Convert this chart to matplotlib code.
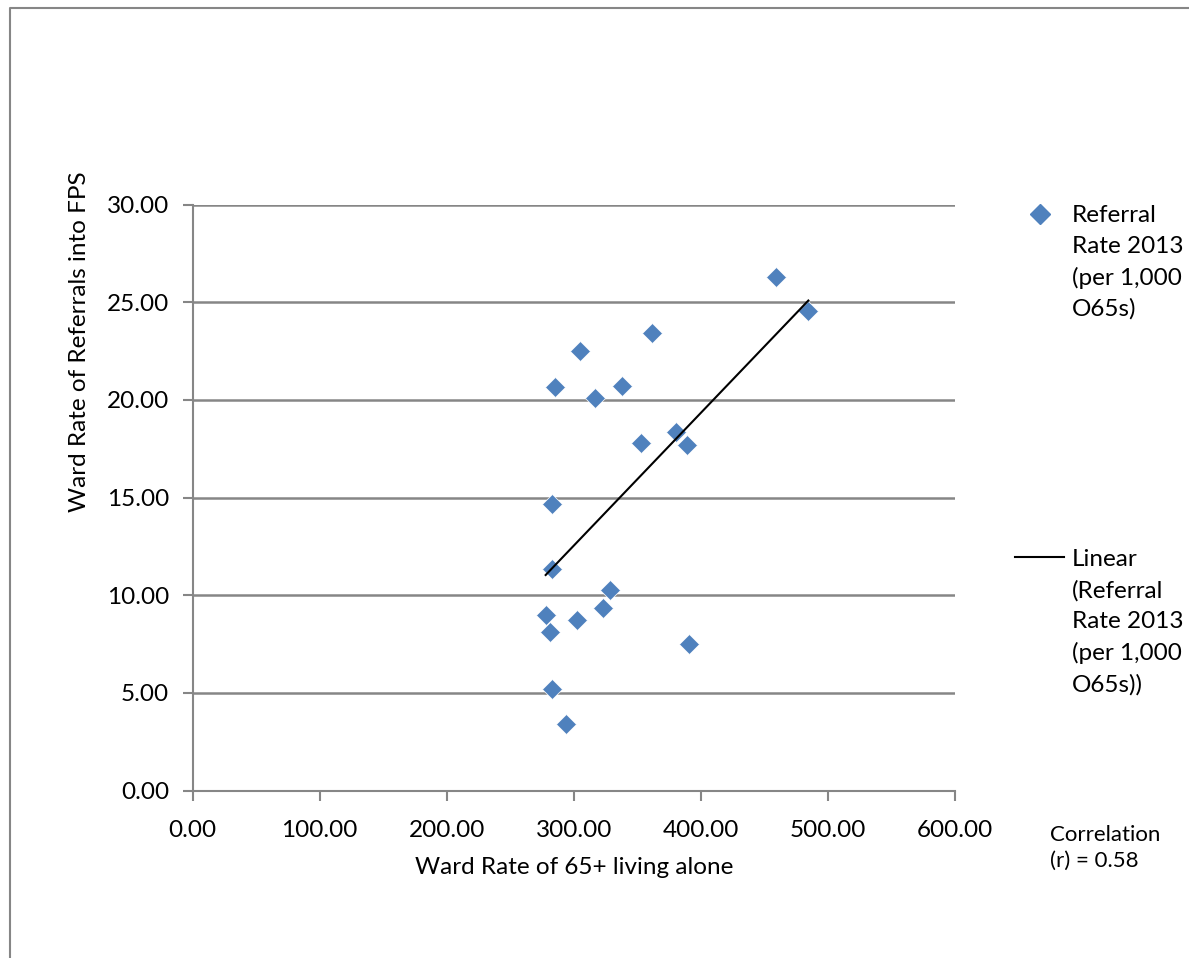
import numpy as np
import matplotlib
matplotlib.use("Agg")
import matplotlib.pyplot as plt
from matplotlib.lines import Line2D

# Data
living_alone = [458.9, 484.6, 361.6, 305.0, 285.5, 338.2, 316.7, 352.9, 380.2, 388.9,
                283.1, 282.7, 328.8, 277.9, 323.3, 302.8, 281.1, 390.9, 283.1, 294.1]
referral_rate = [26.28, 24.57, 23.42, 22.52, 20.68, 20.72, 20.09, 17.78, 18.35, 17.70,
                 14.66, 11.35, 10.27, 8.99, 9.37, 8.74, 8.14, 7.51, 5.20, 3.41]
x_ticks = [0, 100, 200, 300, 400, 500, 600]
y_ticks = [0, 5, 10, 15, 20, 25, 30]
series_label = "Referral\nRate 2013\n(per 1,000\nO65s)"
trend_label = "Linear\n(Referral\nRate 2013\n(per 1,000\nO65s))"
x_title = "Ward Rate of 65+ living alone"
y_title = "Ward Rate of Referrals into FPS"
corr_text = "Correlation\n(r) = 0.58"

plt.rcParams['font.family'] = ['Lato', 'DejaVu Sans']
W, H = 1189, 958
fig = plt.figure(figsize=(W / 100, H / 100), dpi=100)
fig.patch.set_facecolor('white')

grey = '#868686'
blue = '#4F81BD'
FS = 17.5

ax = fig.add_axes([192.5 / W, 1 - 790.6 / H, (955 - 192.5) / W, (790.6 - 204.6) / H])
ax.set_xlim(0, 600)
ax.set_ylim(0, 30)
ax.set_xticks(x_ticks)
ax.set_yticks(y_ticks)
ax.set_xticklabels([f"{v:.2f}" for v in x_ticks])
ax.set_yticklabels([f"{v:.2f}" for v in y_ticks])
ax.tick_params(axis='both', direction='out', length=7, width=1.5, color=grey,
               labelsize=FS, labelcolor='black')
ax.tick_params(axis='x', pad=14)
ax.tick_params(axis='y', pad=10)
for s in ['top', 'right']:
    ax.spines[s].set_visible(False)
for s in ['left', 'bottom']:
    ax.spines[s].set_color(grey)
    ax.spines[s].set_linewidth(1.5)
ax.yaxis.grid(True, color=grey, linewidth=1.8)
ax.set_axisbelow(True)

x = np.array(living_alone)
y = np.array(referral_rate)
ax.plot(x, y, linestyle='none', marker='D', markersize=10.5, color=blue,
        markeredgecolor='white', markeredgewidth=0.5, zorder=3)
coef = np.polyfit(x, y, 1)
xs = np.array([x.min(), x.max()])
ax.plot(xs, np.polyval(coef, xs), color='black', linewidth=1.5, zorder=4)

# Axis titles
fig.text(574 / W, 1 - 867 / H, x_title, ha='center', va='center', fontsize=FS)
fig.text(80 / W, 1 - 342 / H, y_title, ha='center', va='center', rotation=90, fontsize=FS)

# Legend (manual)
fig.add_artist(Line2D([1040 / W], [1 - 214 / H], marker='D', markersize=10, color=blue,
                      linestyle='none', transform=fig.transFigure))
fig.text(1072 / W, 1 - 205 / H, series_label, ha='left', va='top', fontsize=FS,
         linespacing=1.56)
fig.add_artist(Line2D([1015 / W, 1064 / W], [1 - 557 / H, 1 - 557 / H], color='black',
                      linewidth=1.5, transform=fig.transFigure))
fig.text(1072 / W, 1 - 549 / H, trend_label, ha='left', va='top', fontsize=FS,
         linespacing=1.56)

fig.text(1050 / W, 1 - 825 / H, corr_text, ha='left', va='top', fontsize=16,
         linespacing=1.36)

# Outer border
fig.add_artist(Line2D([10 / W, 10 / W, 1.0], [0.0, 1 - 8 / H, 1 - 8 / H], color=grey,
                      linewidth=1.5, transform=fig.transFigure))

fig.savefig('out.png', dpi=100)
